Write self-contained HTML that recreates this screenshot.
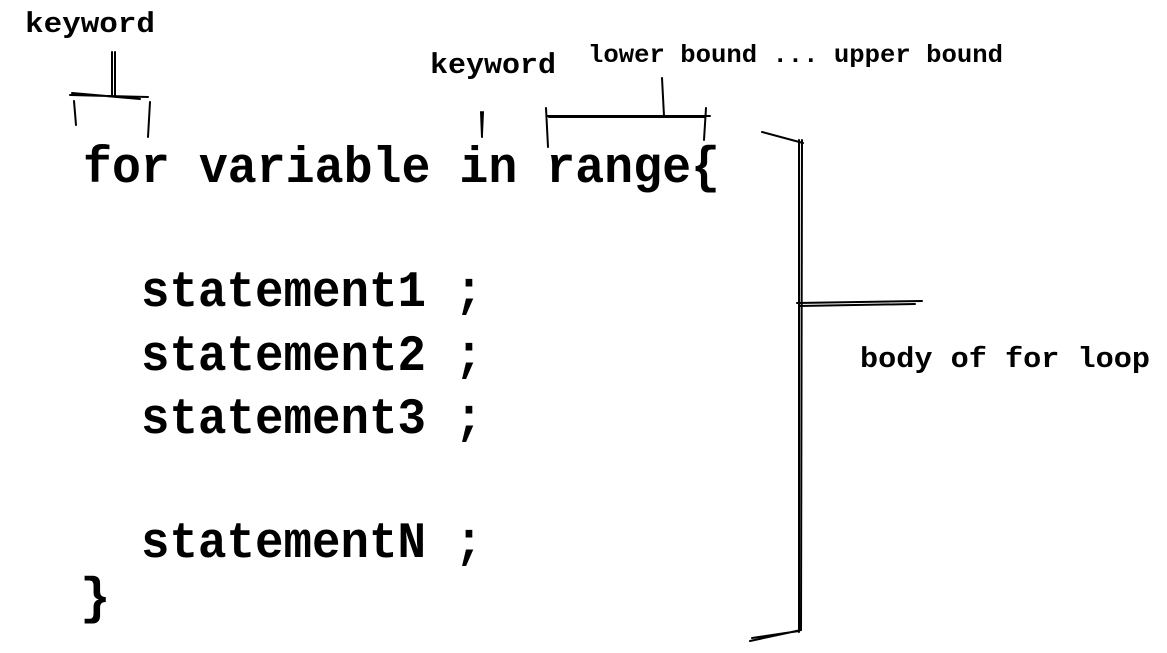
<!DOCTYPE html>
<html><head><style>
html,body{margin:0;padding:0;background:#fff;}
svg{display:block}
text{font-family:"Liberation Mono",monospace;fill:#000;}
</style></head><body>
<svg width="1167" height="653" viewBox="0 0 1167 653">
<g stroke="#000" stroke-width="2" fill="none" stroke-linecap="round">
<path d="M70 95 L148 97 M72 93 L140 99"/>
<path d="M112 52 L112 95 M115 52 L115 95"/>
<path d="M74 101 L76 125"/>
<path d="M150 102 L148 137"/>
<path d="M481 112 L482 137 M483 112 L482 134"/>
<path d="M547 116 L710 116 M549 117 L705 117"/>
<path d="M546 108 L548 147"/>
<path d="M706 108 L704 140"/>
<path d="M662 78 L664 116"/>
<path d="M762 132 L803 143"/>
<path d="M799 140 L799 632 M802 140 L801 630"/>
<path d="M750 641 L801 630 M752 638 L799 631"/>
<path d="M797 303 L922 301 M799 306 L915 304"/>
</g>
<text x="25" y="32" font-size="29" font-weight="bold" textLength="130" lengthAdjust="spacingAndGlyphs">keyword</text>
<text x="430" y="73" font-size="29" font-weight="bold" textLength="126" lengthAdjust="spacingAndGlyphs">keyword</text>
<text x="588" y="62" font-size="25" font-weight="bold" textLength="415" lengthAdjust="spacingAndGlyphs">lower bound ... upper bound</text>
<text x="860" y="367" font-size="29" font-weight="bold" textLength="290" lengthAdjust="spacingAndGlyphs">body of for loop</text>
<g font-size="51" font-weight="bold">
<text x="83" y="182" textLength="637" lengthAdjust="spacingAndGlyphs">for variable in range{</text>
<text x="141" y="306" textLength="342" lengthAdjust="spacingAndGlyphs">statement1 ;</text>
<text x="141" y="370" textLength="342" lengthAdjust="spacingAndGlyphs">statement2 ;</text>
<text x="141" y="433" textLength="342" lengthAdjust="spacingAndGlyphs">statement3 ;</text>
<text x="141" y="557" textLength="342" lengthAdjust="spacingAndGlyphs">statementN ;</text>
<text x="80" y="613">}</text>
</g>
</svg>
</body></html>
